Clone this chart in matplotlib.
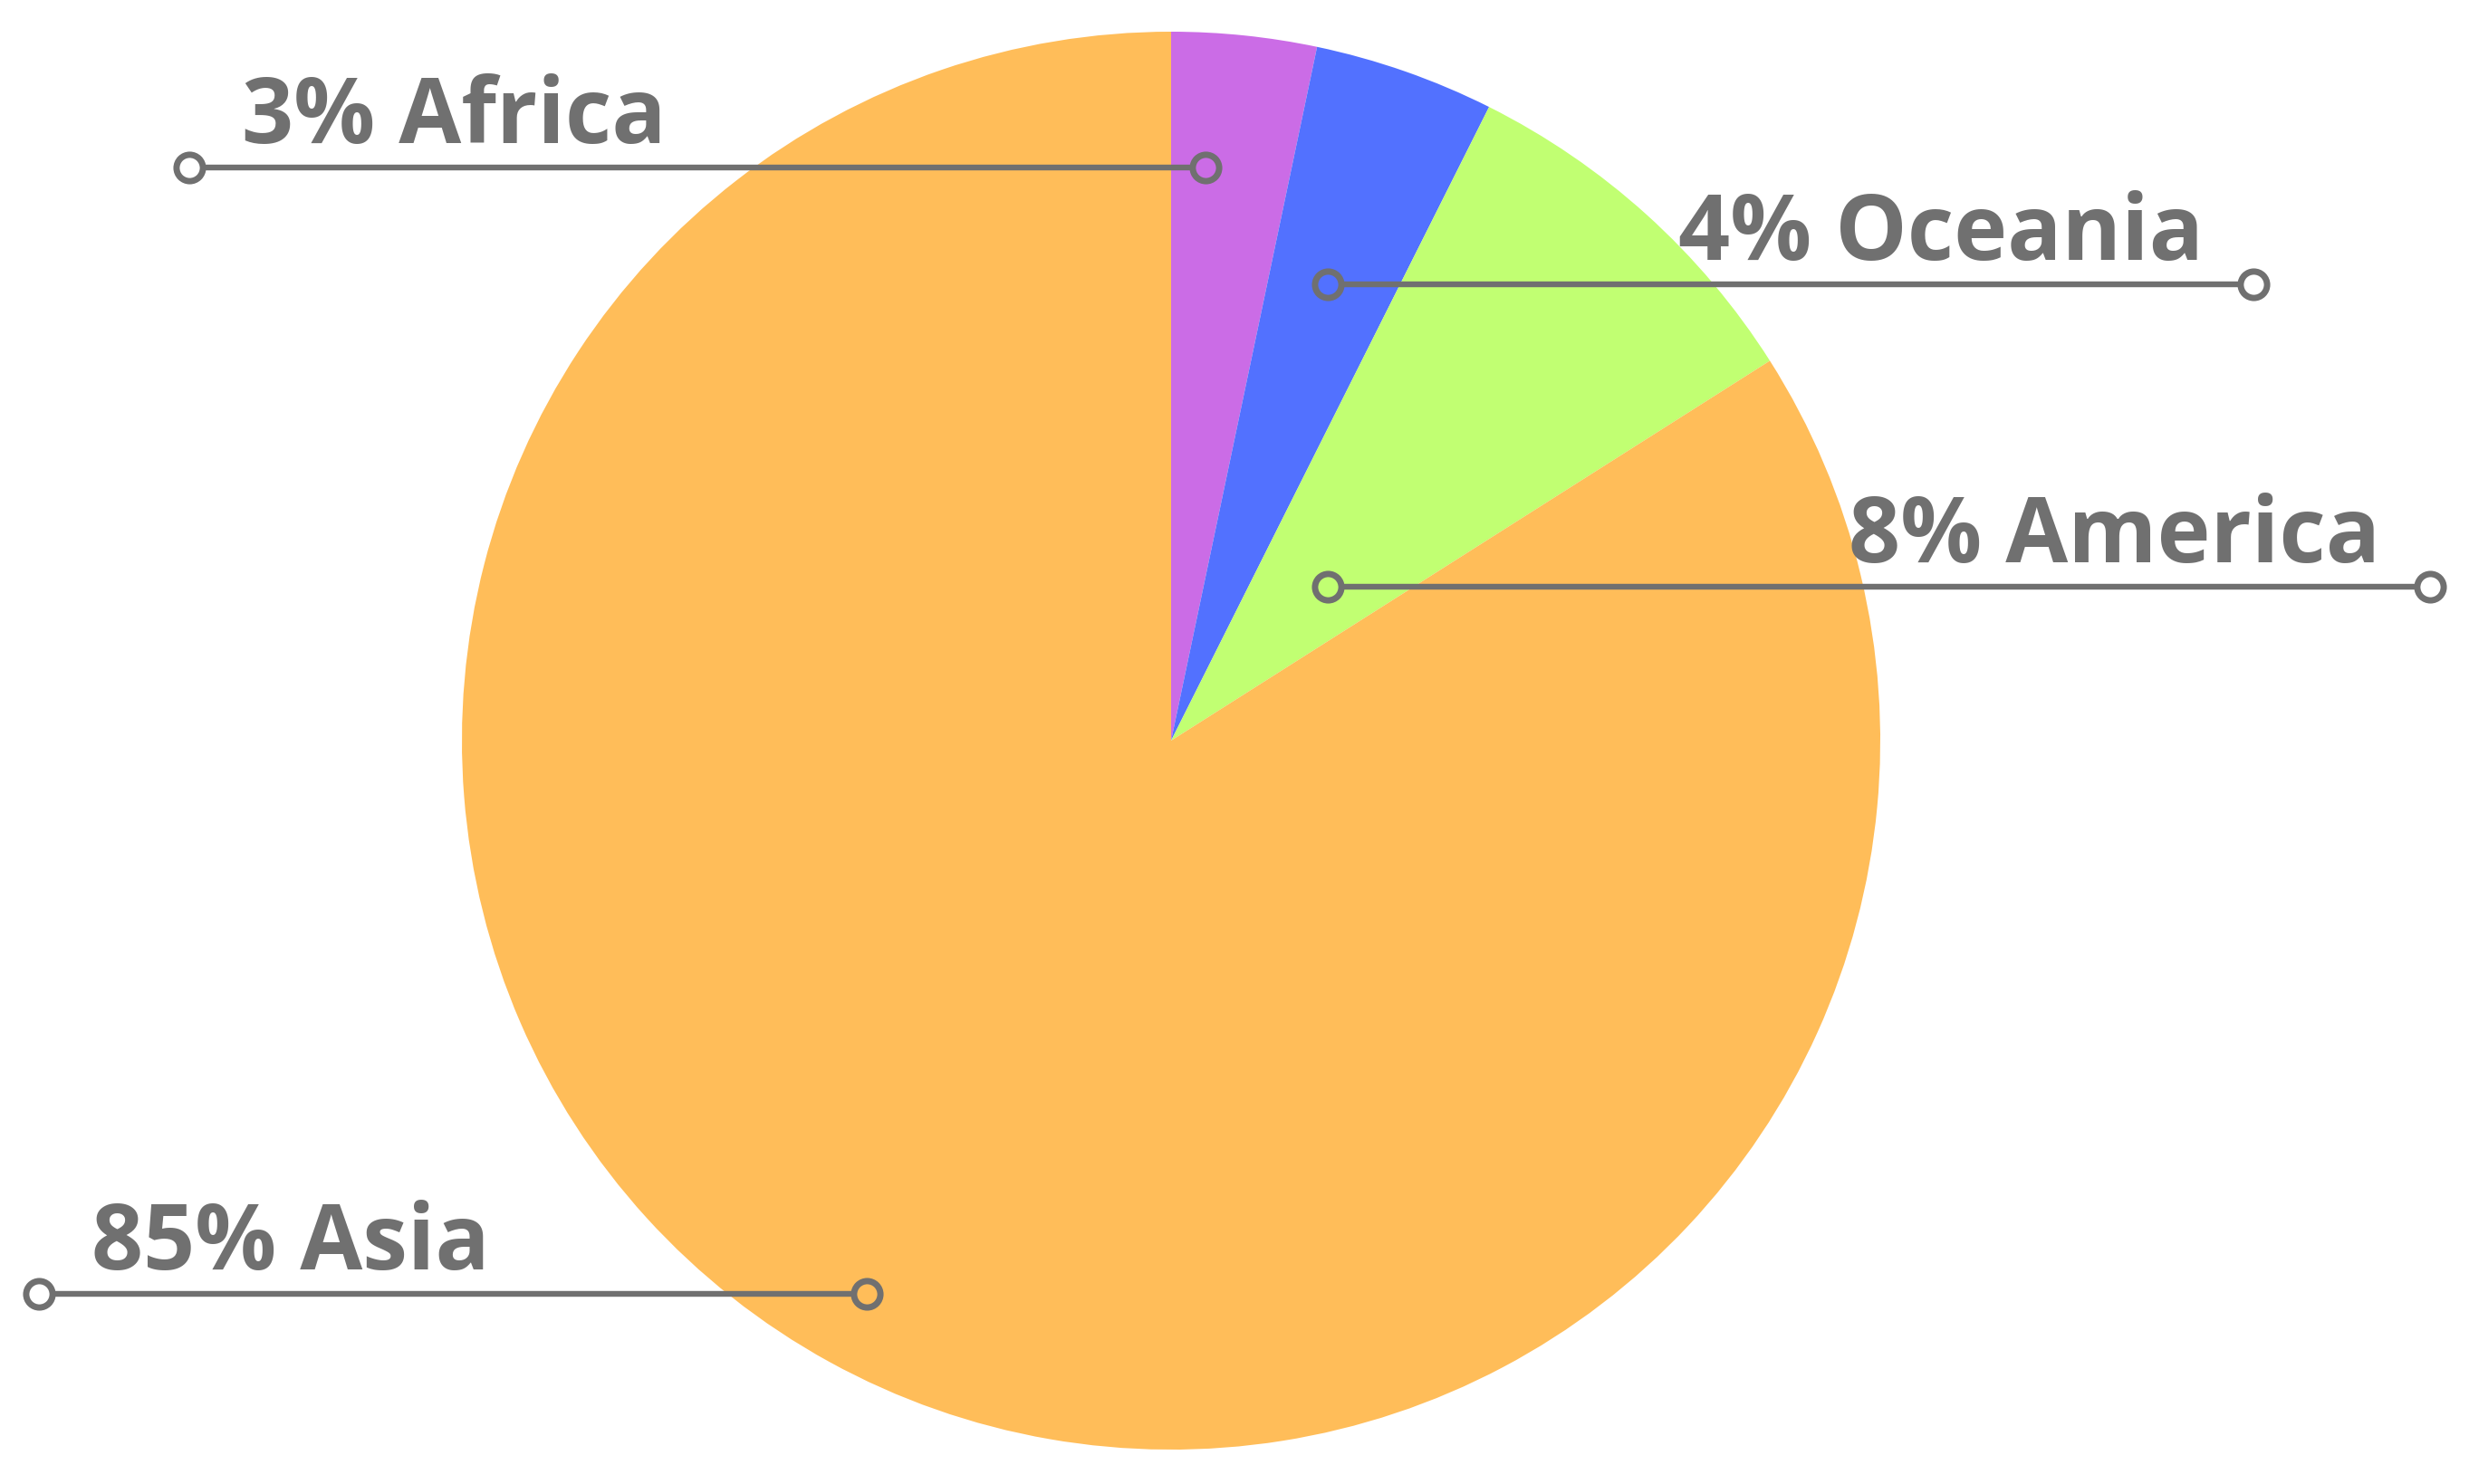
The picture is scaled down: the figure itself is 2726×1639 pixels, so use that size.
import numpy as np
import matplotlib.pyplot as plt

# shares, labels as printed on the chart
regions = ["Africa", "Oceania", "America", "Asia"]
shares = [3.3, 4.1, 8.6, 84.0]
pct_labels = ["3%", "4%", "8%", "85%"]
colors = ["#CB6CE6", "#5271FF", "#C1FF72", "#FFBD59"]

# where the leader dot sits inside each slice (fraction of the sweep, fraction of radius)
sweep_frac = [0.29, 0.48, 0.61, 0.50]
radius_frac = [0.81, 0.68, 0.31, 0.89]
# outer end of each leader line (x, pixels) and which side the label is on
line_end_x = [209, 2488, 2683, 43]
side = ["left", "right", "right", "left"]

W, H = 2726, 1640
cx, cy, R = 1293, H - 819, 783
gray = "#707070"

fig = plt.figure(figsize=(W / 100, H / 100), dpi=100)
ax = fig.add_axes([0, 0, 1, 1])

wedges, _ = ax.pie(shares, colors=colors, startangle=90, counterclock=False,
                   center=(cx, cy), radius=R, frame=True,
                   wedgeprops=dict(linewidth=0))

for w, name, pct, f, rf, xe, s, c in zip(wedges, regions, pct_labels, sweep_frac,
                                          radius_frac, line_end_x, side, colors):
    ang = np.deg2rad(w.theta2 - f * (w.theta2 - w.theta1))
    x0 = cx + rf * R * np.cos(ang)
    y0 = cy + rf * R * np.sin(ang)
    ax.plot([x0, xe], [y0, y0], color=gray, lw=4.6, solid_capstyle="butt", zorder=3)
    # hollow ring at both ends: slice colour inside the pie, white outside
    ax.plot([x0], [y0], ls="none", marker="o", ms=21, mfc=c, mec=gray, mew=5, zorder=4)
    ax.plot([xe], [y0], ls="none", marker="o", ms=21, mfc="white", mec=gray, mew=5, zorder=4)
    if s == "left":
        ax.text(xe + 58, y0 + 28, f"{pct} {name}", ha="left", va="baseline",
                fontsize=72, fontweight="bold", color=gray, family="Open Sans")
    else:
        ax.text(xe - 55, y0 + 28, f"{pct} {name}", ha="right", va="baseline",
                fontsize=72, fontweight="bold", color=gray, family="Open Sans")

ax.set_xlim(0, W)
ax.set_ylim(0, H)
ax.set_aspect("equal")
ax.axis("off")

fig.savefig("out.png", dpi=100, facecolor="white")
